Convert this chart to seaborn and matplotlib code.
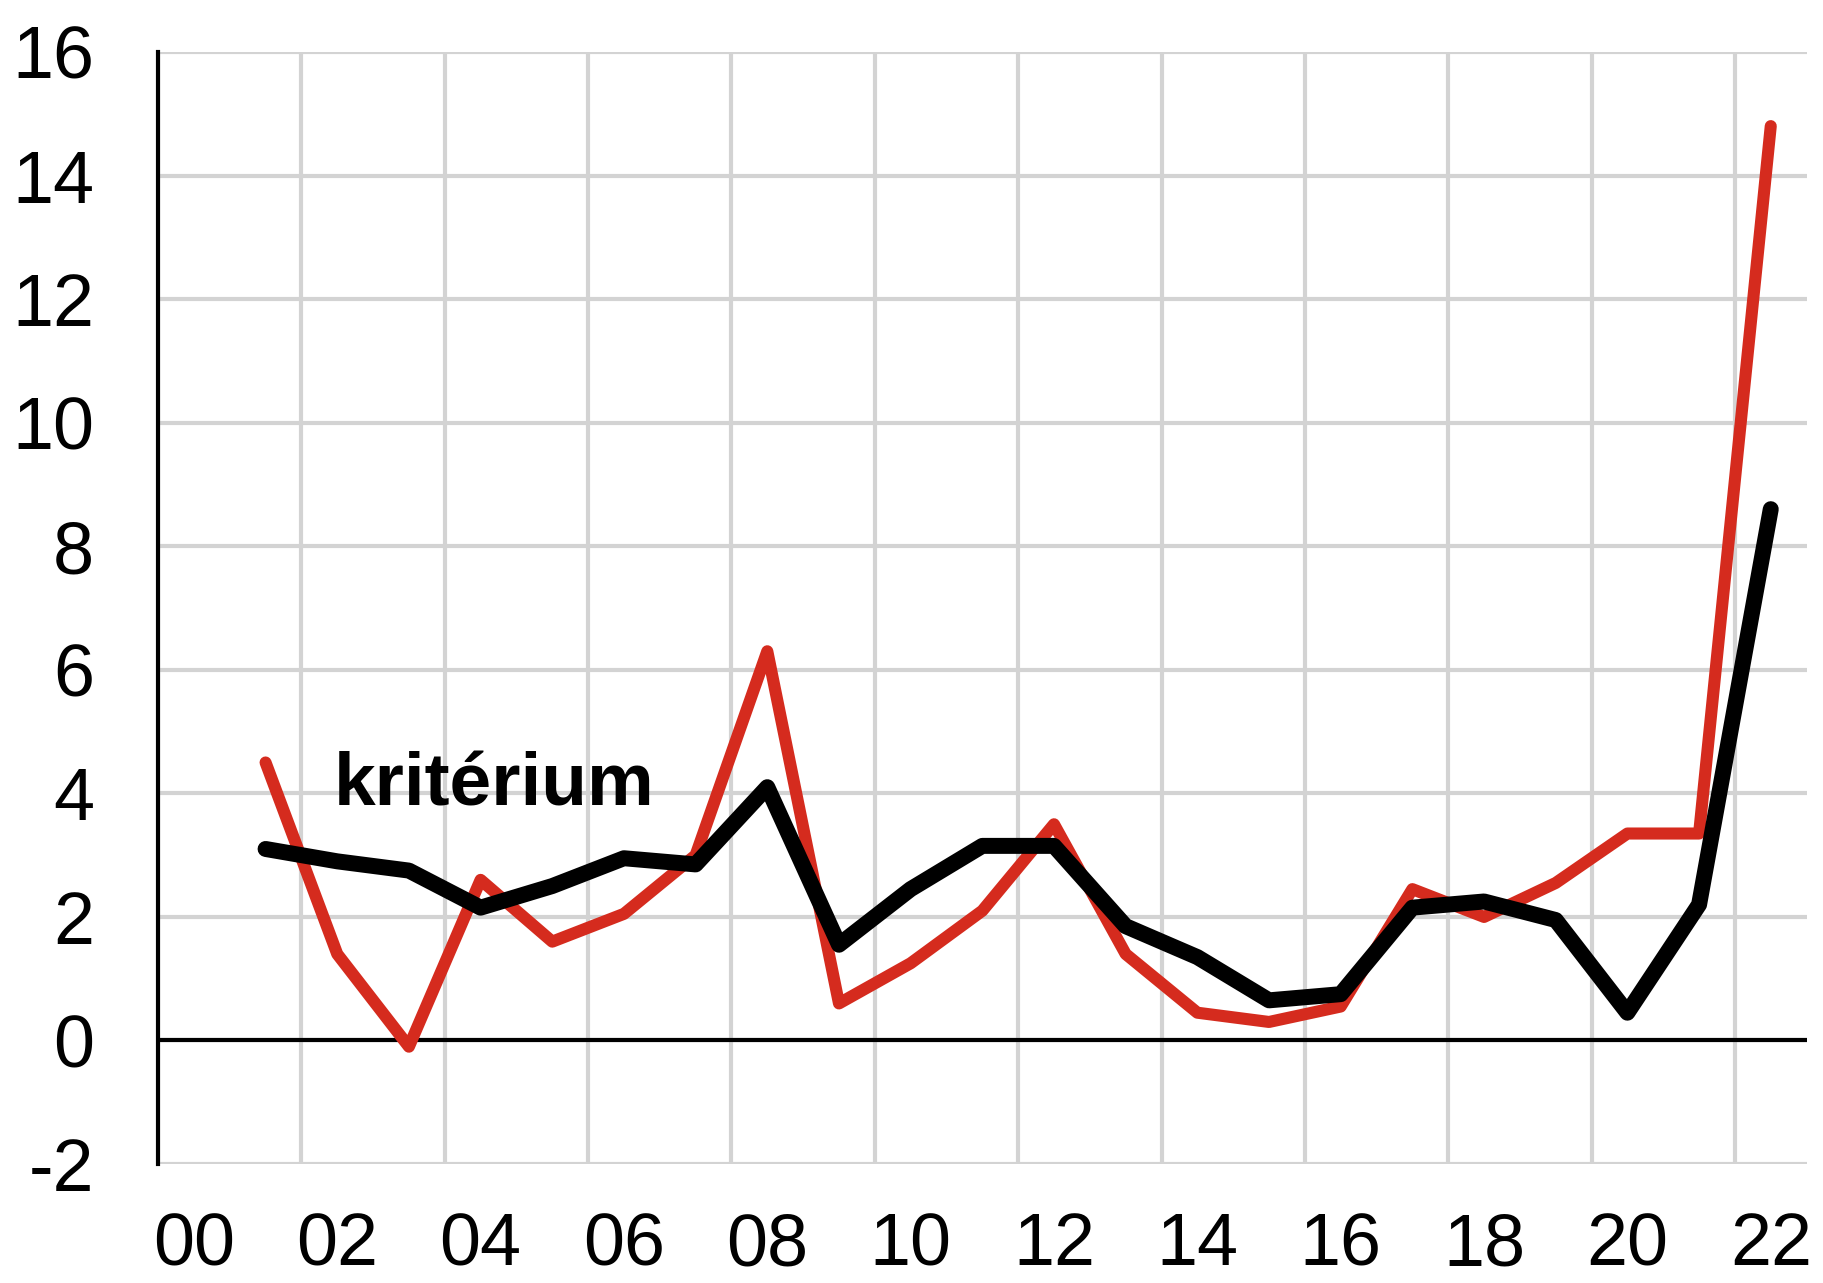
import pandas as pd
import matplotlib
matplotlib.use('Agg')
import matplotlib.pyplot as plt
import seaborn as sns

# years 2001..2022, drawn in the middle of each year slot
years = list(range(2001, 2023))
red_values = [4.5, 1.4, -0.1, 2.6, 1.6, 2.05, 3.0, 6.3, 0.6, 1.25, 2.1, 3.5,
              1.4, 0.45, 0.3, 0.55, 2.45, 2.0, 2.55, 3.35, 3.35, 14.8]
black_values = [3.1, 2.9, 2.75, 2.15, 2.5, 2.95, 2.85, 4.1, 1.55, 2.45, 3.15, 3.15,
                1.85, 1.35, 0.65, 0.75, 2.15, 2.25, 1.95, 0.45, 2.2, 8.6]
x_tick_labels = ['00', '02', '04', '06', '08', '10', '12', '14', '16', '18', '20', '22']
y_ticks = [-2, 0, 2, 4, 6, 8, 10, 12, 14, 16]
label_text = 'kritérium'

sns.set_style("white")
plt.rcParams['font.family'] = ['Liberation Sans', 'DejaVu Sans']

df = pd.DataFrame({'year': years, 'red': red_values, 'black': black_values})
df['pos'] = df['year'] - 2000 + 0.5

fig = plt.figure(figsize=(18.23, 12.83), dpi=100)
ax = fig.add_axes([0.0867, 0.0927, 0.9043, 0.8668])

# grid
for y in y_ticks:
    ax.axhline(y, color='#d3d3d3', lw=3, zorder=0)
for x in range(0, 23, 2):
    ax.axvline(x, color='#d3d3d3', lw=3, zorder=0)
ax.axhline(0, color='black', lw=3, zorder=1)

sns.lineplot(data=df, x='pos', y='red', ax=ax, color='#d52b1e', lw=8.7,
             solid_capstyle='round', solid_joinstyle='round', zorder=3)
sns.lineplot(data=df, x='pos', y='black', ax=ax, color='black', lw=11.5,
             solid_capstyle='round', solid_joinstyle='round', zorder=4)

ax.text(2.45, 3.8, label_text, fontsize=54, fontweight='bold', color='black',
        ha='left', va='baseline', zorder=5)

ax.set_xlim(0, 23)
ax.set_ylim(-2, 16)
ax.set_yticks(y_ticks)
ax.set_yticklabels([str(v) for v in y_ticks])
ax.set_xticks([i + 0.5 for i in range(0, 23, 2)])
ax.set_xticklabels(x_tick_labels)
ax.tick_params(axis='both', length=0, labelsize=53, labelcolor='black')
ax.tick_params(axis='y', pad=46)
ax.tick_params(axis='x', pad=34)
ax.set_xlabel('')
ax.set_ylabel('')

for side in ['top', 'right', 'bottom']:
    ax.spines[side].set_visible(False)
ax.spines['left'].set_color('black')
ax.spines['left'].set_linewidth(3)
ax.spines['left'].set_zorder(6)

fig.savefig('out.png', dpi=100)
